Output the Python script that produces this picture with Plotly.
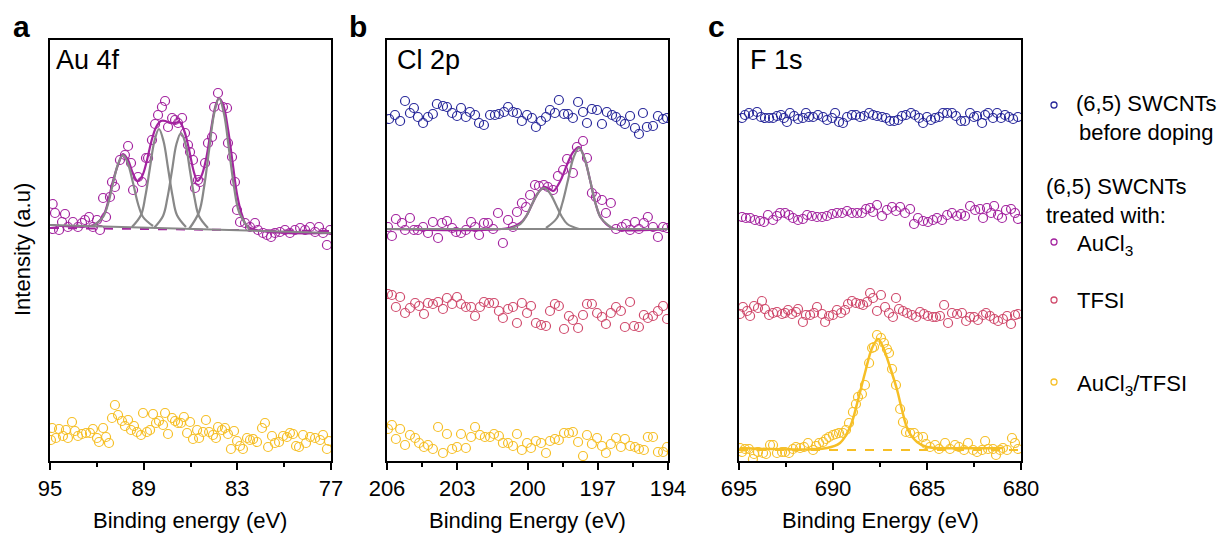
import plotly.graph_objects as go

FONT = "Liberation Sans, Arial, sans-serif"
C_BLUE = "#27279a"
C_PURPLE = "#a3239f"
C_PINK = "#d04a6c"
C_YELLOW = "#f6bf26"
C_GRAY = "#888888"

# ---------------- Panel a: Au 4f ----------------
a_purple_E = [94.83, 94.68, 94.81, 94.42, 94.23, 94.04, 93.85, 93.53, 93.21, 92.95, 92.76, 92.50, 92.25, 91.99,
              91.80, 91.60, 91.41, 91.16, 91.03, 90.84, 90.52, 90.20, 90.00, 89.81, 89.68, 89.36, 89.11, 88.85,
              88.72, 88.47, 88.27, 88.08, 87.83, 87.63, 87.44, 87.18, 86.99, 86.80, 86.54, 86.35, 86.16, 86.03,
              85.84, 85.71, 85.52, 85.39, 85.07, 84.88, 84.62, 84.49, 84.24, 83.92, 83.66, 83.60, 83.34, 83.15,
              83.02, 82.83, 82.51, 82.19, 81.87, 81.68, 81.36, 81.10, 80.84, 80.59, 80.27, 79.95, 79.63, 79.31,
              78.98, 78.66, 78.34, 78.02, 77.77, 77.51, 77.26, 77.06]
a_purple_I = [257, 248, 232, 231, 239, 247, 234, 239, 234, 238, 241, 244, 234, 241,
              231, 263, 244, 264, 279, 274, 301, 306, 315, 298, 271, 284, 279, 303,
              303, 321, 337, 346, 354, 360, 334, 343, 341, 338, 343, 328, 316, 309,
              301, 273, 281, 279, 298, 318, 324, 354, 368, 354, 353, 318, 304, 279,
              251, 239, 238, 234, 238, 231, 228, 226, 224, 228, 229, 231, 228, 231,
              233, 231, 234, 229, 234, 228, 216, 231]

a_yellow_E = [94.87, 94.94, 94.62, 94.42, 94.17, 93.98, 93.85, 93.59, 93.40, 93.21, 92.95, 92.69, 92.44, 92.25,
              91.99, 91.86, 91.60, 91.41, 91.22, 91.03, 90.84, 90.64, 90.39, 90.20, 90.00, 89.81, 89.62, 89.43,
              89.17, 89.04, 88.79, 88.59, 88.40, 88.21, 88.02, 87.76, 87.63, 87.44, 87.18, 86.99, 86.80, 86.61,
              86.42, 86.22, 86.03, 85.84, 85.58, 85.45, 85.20, 85.01, 84.81, 84.56, 84.37, 84.24, 83.98, 83.79,
              83.60, 83.41, 83.21, 83.02, 82.83, 82.64, 82.38, 82.19, 81.99, 81.74, 81.42, 81.23, 81.03, 80.78,
              80.59, 80.33, 80.07, 79.82, 79.63, 79.43, 79.24, 79.05, 78.79, 78.60, 78.34, 78.02, 77.70, 77.51,
              77.26, 77.13]
a_yellow_I = [33, 21, 23, 32, 25, 31, 23, 39, 30, 25, 27, 28, 28, 32,
              23, 19, 33, 24, 18, 43, 56, 46, 40, 35, 41, 31, 35, 29,
              26, 48, 29, 31, 47, 38, 40, 36, 48, 27, 43, 40, 38, 38,
              44, 28, 39, 22, 31, 23, 29, 41, 29, 26, 23, 34, 31, 33,
              27, 12, 30, 20, 15, 12, 23, 21, 22, 19, 33, 38, 14, 25,
              18, 19, 25, 24, 28, 27, 15, 14, 26, 18, 24, 23, 21, 26,
              12, 20]

a_base_E = [95, 77]
a_base_I = [236, 228]
a_dash_I = [233, 230]

a_env_E = [95.0, 92.2, 91.6, 91.3, 91.0, 90.6, 90.32, 90.0, 89.7, 89.4, 89.1, 88.8, 88.5, 88.2, 87.9, 87.6,
           87.3, 87.0, 86.7, 86.4, 86.1, 85.8, 85.55, 85.3, 85.0, 84.7, 84.4, 84.17, 83.9, 83.6, 83.3, 83.0,
           82.7, 82.3, 77.0]
a_env_I = [236, 236, 245, 258, 278, 298, 307, 301, 288, 280, 285, 300, 320, 334, 340, 340,
           338, 338, 339, 330, 312, 290, 280, 285, 302, 330, 355, 363, 356, 332, 298, 265,
           246, 234, 228]

a_pk1_E = [92.24, 91.60, 91.28, 90.96, 90.64, 90.32, 90.00, 89.68, 89.36, 89.04, 88.40]
a_pk1_I = [235, 244, 257, 278, 297, 306, 297, 278, 257, 244, 235]
a_pk2_E = [89.75, 89.17, 88.89, 88.60, 88.31, 88.02, 87.73, 87.44, 87.15, 86.87, 86.29]
a_pk2_I = [234, 246, 265, 293, 320, 332, 320, 293, 265, 246, 234]
a_pk3_E = [88.34, 87.76, 87.48, 87.19, 86.90, 86.61, 86.32, 86.03, 85.74, 85.46, 84.88]
a_pk3_I = [233, 245, 263, 290, 317, 328, 317, 290, 263, 245, 233]
a_pk4_E = [86.09, 85.45, 85.13, 84.81, 84.49, 84.17, 83.85, 83.53, 83.21, 82.89, 82.25]
a_pk4_I = [232, 249, 274, 311, 347, 363, 347, 311, 274, 249, 232]

# ---------------- Panel b: Cl 2p ----------------
b_blue_E = [205.91, 205.66, 205.44, 205.23, 205.02, 204.85, 204.68, 204.46, 204.25, 204.04, 203.87, 203.61,
            203.44, 203.22, 203.01, 202.84, 202.63, 202.46, 202.24, 202.07, 201.86, 201.60, 201.39, 201.22,
            201.00, 200.83, 200.62, 200.45, 200.24, 200.02, 199.81, 199.64, 199.42, 199.21, 199.04, 198.83,
            198.66, 198.44, 198.27, 198.06, 197.84, 197.63, 197.46, 197.25, 197.03, 196.82, 196.61, 196.39,
            196.22, 196.01, 195.84, 195.62, 195.41, 195.24, 195.07, 194.90, 194.64, 194.43, 194.21, 194.04]
b_blue_I = [342, 346, 340, 360, 348, 353, 344, 338, 344, 347, 357, 355,
            354, 348, 345, 353, 344, 349, 346, 338, 336, 346, 346, 347,
            349, 354, 349, 348, 340, 346, 343, 334, 340, 344, 351, 348,
            361, 347, 347, 343, 359, 349, 338, 352, 351, 337, 349, 346,
            344, 340, 337, 345, 333, 327, 348, 334, 335, 345, 342, 343]

b_purple_E = [205.96, 205.79, 205.62, 205.36, 205.23, 205.02, 204.85, 204.68, 204.46, 204.25, 204.04, 203.82,
              203.65, 203.44, 203.22, 203.05, 202.84, 202.63, 202.41, 202.24, 202.07, 201.86, 201.69, 201.47,
              201.26, 201.05, 200.83, 200.62, 200.45, 200.24, 200.06, 199.89, 199.68, 199.51, 199.30, 199.13,
              198.91, 198.70, 198.48, 198.31, 198.06, 197.89, 197.63, 197.46, 197.25, 197.08, 196.82, 196.65,
              196.44, 196.22, 195.97, 195.79, 195.62, 195.41, 195.24, 195.03, 194.86, 194.64, 194.43, 194.21,
              194.04]
b_purple_I = [234, 225, 242, 238, 231, 243, 231, 231, 234, 228, 239, 223,
              238, 240, 233, 229, 228, 231, 239, 234, 226, 238, 238, 232,
              248, 218, 241, 234, 249, 258, 254, 266, 276, 275, 276, 274,
              271, 285, 291, 302, 288, 314, 320, 303, 268, 264, 261, 248,
              258, 232, 234, 237, 231, 239, 232, 238, 244, 234, 224, 234,
              233]

b_pink_E = [205.96, 205.79, 205.62, 205.44, 205.23, 205.02, 204.80, 204.63, 204.42, 204.25, 204.04, 203.82,
            203.61, 203.44, 203.22, 203.01, 202.84, 202.63, 202.41, 202.24, 202.03, 201.86, 201.64, 201.43,
            201.22, 201.05, 200.83, 200.62, 200.45, 200.24, 200.02, 199.85, 199.64, 199.42, 199.21, 199.04,
            198.83, 198.66, 198.44, 198.23, 198.06, 197.84, 197.63, 197.46, 197.25, 197.03, 196.82, 196.65,
            196.44, 196.22, 196.01, 195.84, 195.62, 195.45, 195.24, 195.03, 194.86, 194.64, 194.43, 194.21,
            194.04]
b_pink_I = [167, 166, 154, 164, 148, 153, 158, 155, 147, 158, 157, 159,
            152, 163, 157, 164, 157, 154, 154, 145, 154, 159, 158, 158,
            150, 143, 152, 154, 138, 158, 148, 155, 138, 136, 135, 150,
            157, 155, 132, 145, 141, 133, 146, 157, 157, 148, 144, 137,
            148, 154, 150, 134, 159, 135, 134, 146, 143, 145, 150, 155,
            142]

b_yellow_E = [205.96, 205.79, 205.62, 205.44, 205.23, 205.02, 204.80, 204.63, 204.42, 204.25, 204.04, 203.82,
              203.61, 203.44, 203.22, 203.01, 202.84, 202.63, 202.41, 202.24, 202.03, 201.82, 201.60, 201.43,
              201.22, 201.05, 200.83, 200.62, 200.45, 200.24, 200.02, 199.85, 199.64, 199.42, 199.21, 199.04,
              198.83, 198.66, 198.44, 198.23, 198.06, 197.84, 197.63, 197.46, 197.25, 197.03, 196.82, 196.65,
              196.44, 196.22, 196.01, 195.84, 195.62, 195.41, 195.24, 195.03, 194.86, 194.64, 194.43, 194.21,
              194.04]
b_yellow_I = [32, 36, 22, 32, 16, 26, 23, 18, 14, 16, 12, 34,
              8, 27, 12, 14, 27, 13, 24, 34, 26, 24, 24, 27,
              25, 18, 18, 15, 27, 11, 18, 13, 20, 18, 8, 20,
              22, 21, 28, 28, 29, 19, 5, 26, 17, 23, 15, 8,
              17, 23, 14, 22, 15, 14, 12, 11, 24, 24, 9, 9,
              14]

b_base_E = [206, 194]
b_base_I = [232, 232]

b_env_E = [206.0, 200.8, 200.3, 200.05, 199.8, 199.55, 199.3, 199.05, 198.9, 198.6, 198.3, 198.05, 197.8,
           197.57, 197.33, 197.1, 196.86, 196.39, 194.0]
b_env_I = [232, 233, 238, 245, 257, 268, 274, 272, 270, 280, 297, 309, 314,
           303, 281, 258, 243, 233, 232]

b_pk1_E = [200.80, 200.30, 200.05, 199.80, 199.55, 199.30, 199.05, 198.80, 198.55, 198.30, 197.80]
b_pk1_I = [232, 237, 245, 257, 268, 273, 268, 257, 245, 237, 232]
b_pk2_E = [199.21, 198.74, 198.51, 198.27, 198.04, 197.80, 197.57, 197.33, 197.10, 196.86, 196.39]
b_pk2_I = [233, 243, 258, 281, 303, 313, 303, 281, 258, 243, 233]

# ---------------- Panel c: F 1s ----------------
c_blue_E = [694.84, 694.68, 694.47, 694.26, 694.04, 693.83, 693.62, 693.40, 693.19, 692.98, 692.77, 692.61,
            692.45, 692.29, 692.07, 691.86, 691.60, 691.44, 691.28, 691.06, 690.80, 690.53, 690.32, 690.05,
            689.89, 689.68, 689.47, 689.25, 688.99, 688.78, 688.56, 688.35, 688.08, 687.87, 687.66, 687.39,
            687.18, 686.97, 686.75, 686.54, 686.33, 686.12, 685.85, 685.64, 685.42, 685.21, 685.00, 684.79,
            684.57, 684.36, 684.15, 683.93, 683.67, 683.46, 683.19, 682.98, 682.71, 682.50, 682.34, 682.07,
            681.91, 681.75, 681.49, 681.27, 681.06, 680.85, 680.64, 680.42, 680.16]
c_blue_I = [343, 346, 348, 346, 349, 344, 343, 343, 343, 345, 346, 343,
            339, 348, 345, 342, 343, 348, 344, 344, 346, 344, 341, 343,
            348, 339, 338, 344, 346, 346, 344, 345, 348, 346, 345, 344,
            343, 340, 340, 341, 345, 346, 348, 346, 343, 338, 344, 341,
            343, 344, 348, 348, 348, 345, 340, 340, 348, 344, 345, 338,
            346, 348, 343, 348, 343, 346, 344, 342, 344]

c_purple_E = [694.84, 694.63, 694.41, 694.15, 693.88, 693.67, 693.46, 693.19, 692.98, 692.82, 692.55, 692.34,
              692.13, 691.86, 691.60, 691.38, 691.12, 690.85, 690.58, 690.32, 690.05, 689.79, 689.52, 689.25,
              688.99, 688.72, 688.46, 688.24, 688.03, 687.87, 687.66, 687.39, 687.13, 686.86, 686.65, 686.43,
              686.17, 685.90, 685.69, 685.48, 685.21, 684.95, 684.68, 684.47, 684.20, 683.93, 683.67, 683.40,
              683.19, 682.98, 682.71, 682.44, 682.18, 682.02, 681.81, 681.59, 681.43, 681.22, 681.01, 680.80,
              680.53, 680.32, 680.16]
c_purple_I = [244, 243, 243, 241, 240, 239, 246, 241, 245, 248, 248, 246,
              243, 241, 242, 246, 245, 244, 244, 245, 247, 248, 248, 250,
              248, 248, 248, 252, 253, 249, 256, 245, 251, 254, 250, 254,
              248, 252, 237, 243, 240, 239, 241, 243, 241, 246, 248, 245,
              247, 245, 255, 251, 252, 243, 253, 248, 255, 246, 243, 251,
              252, 248, 242]

c_pink_E = [694.95, 694.79, 694.57, 694.41, 694.20, 693.99, 693.78, 693.62, 693.40, 693.19, 692.98, 692.71,
            692.55, 692.39, 692.18, 691.97, 691.86, 691.60, 691.44, 691.22, 691.01, 690.85, 690.58, 690.42,
            690.21, 690.00, 689.79, 689.57, 689.36, 689.20, 688.99, 688.78, 688.56, 688.40, 688.19, 688.03,
            687.87, 687.66, 687.45, 687.23, 687.02, 686.81, 686.65, 686.49, 686.28, 686.06, 685.80, 685.58,
            685.37, 685.16, 684.95, 684.68, 684.52, 684.31, 684.09, 683.88, 683.67, 683.40, 683.14, 682.92,
            682.71, 682.50, 682.29, 682.02, 681.86, 681.65, 681.43, 681.22, 680.96, 680.74, 680.53, 680.32,
            680.16]
c_pink_I = [147, 154, 150, 145, 155, 153, 160, 152, 146, 148, 149, 147,
            148, 151, 147, 149, 152, 139, 146, 146, 148, 154, 147, 139,
            145, 146, 151, 148, 151, 157, 160, 158, 157, 156, 159, 168,
            163, 150, 166, 154, 148, 144, 163, 152, 150, 148, 146, 144,
            149, 147, 145, 144, 144, 145, 156, 138, 148, 147, 148, 140,
            144, 144, 141, 146, 148, 145, 142, 140, 142, 145, 137, 146,
            147]

c_yellow_E = [694.95, 694.84, 694.68, 694.47, 694.26, 694.20, 693.99, 693.72, 693.56, 693.35, 693.19, 692.98,
              692.71, 692.55, 692.34, 692.13, 691.97, 691.75, 691.54, 691.33, 691.06, 690.90, 690.74, 690.53,
              690.37, 690.21, 690.00, 689.84, 689.68, 689.47, 689.31, 689.15, 688.94, 688.78, 688.67, 688.46,
              688.30, 688.08, 687.92, 687.82, 687.66, 687.45, 687.29, 687.13, 687.02, 686.86, 686.65, 686.43,
              686.28, 686.12, 685.90, 685.69, 685.48, 685.21, 685.05, 684.84, 684.57, 684.36, 684.04, 683.78,
              683.51, 683.30, 683.03, 682.82, 682.55, 682.34, 682.07, 681.91, 681.75, 681.49, 681.33, 681.11,
              680.96, 680.74, 680.48, 680.32, 680.16]
c_yellow_I = [13, 9, 12, 12, 2, 7, 9, 8, 7, 16, 16, 8,
              9, 9, 8, 12, 14, 13, 14, 18, 11, 15, 18, 19,
              22, 24, 26, 27, 28, 28, 31, 38, 49, 57, 64, 67,
              76, 98, 113, 114, 126, 123, 118, 112, 108, 92, 76, 52,
              39, 29, 28, 28, 24, 24, 17, 14, 16, 12, 18, 12,
              16, 14, 11, 18, 11, 9, 11, 20, 12, 12, 6, 11,
              13, 11, 23, 18, 12]

c_fit_E = [694.95, 690.32, 689.63, 689.09, 688.67, 688.30, 687.92, 687.60, 687.34, 686.97, 686.59, 686.33,
           686.01, 685.53, 685.00, 684.47, 680.96]
c_fit_I = [13, 13, 18, 34, 61, 88, 113, 122, 114, 94, 71, 51,
           31, 19, 14, 13, 13]
c_dash_E = [695, 680]
c_dash_I = [11, 11]

# ---------------- axes / labels ----------------
a_ticks = [95, 89, 83, 77]
a_minor = [92, 86, 80]
b_ticks = [206, 203, 200, 197, 194]
b_minor = [204.5, 201.5, 198.5, 195.5]
c_ticks = [695, 690, 685, 680]
c_minor = [692.5, 687.5, 682.5]

legend_labels = ["(6,5) SWCNTs<br>before doping", "AuCl<sub>3</sub>", "TFSI", "AuCl<sub>3</sub>/TFSI"]
legend_colors = [C_BLUE, C_PURPLE, C_PINK, C_YELLOW]
legend_y = [105, 242, 300, 382]

W, H = 1223, 533


def fx(x):
    return x / W


def fy(y):
    return 1 - y / H


fig = go.Figure()


def pts(E, I, color, ax):
    fig.add_trace(go.Scatter(x=E, y=I, mode="markers", xaxis="x" + ax, yaxis="y" + ax,
                             marker=dict(symbol="circle-open", size=9, color=color,
                                         line=dict(width=1.2, color=color)),
                             showlegend=False, hoverinfo="skip"))


def line(E, I, color, ax, width=2, dash="solid", spline=True):
    fig.add_trace(go.Scatter(x=E, y=I, mode="lines", xaxis="x" + ax, yaxis="y" + ax,
                             line=dict(color=color, width=width, dash=dash,
                                       shape="spline" if spline else "linear", smoothing=1.0),
                             showlegend=False, hoverinfo="skip"))


# Panel a
pts(a_purple_E, a_purple_I, C_PURPLE, "")
pts(a_yellow_E, a_yellow_I, C_YELLOW, "")
line(a_base_E, a_dash_I, C_PURPLE, "", width=2, dash="dash", spline=False)
line(a_env_E, a_env_I, C_PURPLE, "", width=2.2)
line(a_base_E, a_base_I, C_GRAY, "", width=2, spline=False)
for E, I in [(a_pk1_E, a_pk1_I), (a_pk2_E, a_pk2_I), (a_pk3_E, a_pk3_I), (a_pk4_E, a_pk4_I)]:
    line(E, I, C_GRAY, "", width=2.2)

# Panel b
pts(b_blue_E, b_blue_I, C_BLUE, "2")
pts(b_purple_E, b_purple_I, C_PURPLE, "2")
pts(b_pink_E, b_pink_I, C_PINK, "2")
pts(b_yellow_E, b_yellow_I, C_YELLOW, "2")
line(b_base_E, b_base_I, C_PURPLE, "2", width=2, dash="dash", spline=False)
line(b_env_E, b_env_I, C_PURPLE, "2", width=2.2)
line(b_base_E, b_base_I, C_GRAY, "2", width=2, spline=False)
for E, I in [(b_pk1_E, b_pk1_I), (b_pk2_E, b_pk2_I)]:
    line(E, I, C_GRAY, "2", width=2.2)

# Panel c
pts(c_blue_E, c_blue_I, C_BLUE, "3")
pts(c_purple_E, c_purple_I, C_PURPLE, "3")
pts(c_pink_E, c_pink_I, C_PINK, "3")
pts(c_yellow_E, c_yellow_I, C_YELLOW, "3")
line(c_dash_E, c_dash_I, C_YELLOW, "3", width=2, dash="dash", spline=False)
line(c_fit_E, c_fit_I, C_YELLOW, "3", width=2.5)

# Legend markers (on a hidden page-pixel axis)
fig.add_trace(go.Scatter(x=[1054] * len(legend_y), y=legend_y, mode="markers", xaxis="x4", yaxis="y4",
                         marker=dict(symbol="circle-open", size=6, color=legend_colors,
                                     line=dict(width=1.3, color=legend_colors)),
                         showlegend=False, hoverinfo="skip"))

font = dict(family=FONT, size=22, color="black")
yrange = [0, 421]
ydom = [fy(461), fy(40)]


def xax(x0, x1, rng, ticks, minor):
    return dict(domain=[fx(x0), fx(x1)], range=rng, tickvals=ticks, ticktext=[str(t) for t in ticks],
                ticks="outside", ticklen=7, tickwidth=2, tickcolor="black",
                minor=dict(tickvals=minor, ticks="outside", ticklen=4, tickwidth=1.5, tickcolor="black"),
                showline=True, mirror=True, linewidth=2, linecolor="black",
                showgrid=False, zeroline=False, tickfont=font, automargin=False)


def yax(anchor):
    return dict(domain=ydom, range=yrange, anchor=anchor, showticklabels=False, ticks="",
                showline=True, mirror=True, linewidth=2, linecolor="black",
                showgrid=False, zeroline=False, automargin=False)


fig.update_layout(
    width=W, height=H, margin=dict(l=0, r=0, t=0, b=0),
    paper_bgcolor="white", plot_bgcolor="white", showlegend=False,
    font=dict(family=FONT, color="black"),
    xaxis=dict(**xax(50, 331, [95, 77], a_ticks, a_minor), anchor="y"),
    xaxis2=dict(**xax(387, 668, [206, 194], b_ticks, b_minor), anchor="y2"),
    xaxis3=dict(**xax(739, 1021, [695, 680], c_ticks, c_minor), anchor="y3"),
    yaxis=yax("x"), yaxis2=yax("x2"), yaxis3=yax("x3"),
    xaxis4=dict(domain=[fx(1030), 1], range=[1030, W], visible=False, anchor="y4"),
    yaxis4=dict(domain=[0, 1], range=[H, 0], visible=False, anchor="x4"),
)

ann = []


def txt(x, y, s, size=22, bold=False, xanchor="left", align="left", angle=0):
    ann.append(dict(x=fx(x), y=fy(y), xref="paper", yref="paper", text=("<b>%s</b>" % s) if bold else s,
                    showarrow=False, xanchor=xanchor, yanchor="middle", align=align, textangle=angle,
                    font=dict(family=FONT, size=size, color="black")))


txt(11, 27, "a", size=30, bold=True)
txt(347, 27, "b", size=30, bold=True)
txt(706, 27, "c", size=30, bold=True)
txt(54, 60, "Au 4f", size=27)
txt(395, 60, "Cl 2p", size=27)
txt(748, 60, "F 1s", size=27)
txt(190, 520, "Binding energy (eV)", xanchor="center", align="center")
txt(527, 520, "Binding Energy (eV)", xanchor="center", align="center")
txt(880, 520, "Binding Energy (eV)", xanchor="center", align="center")
txt(22, 250, "Intensity (a.u)", xanchor="center", align="center", angle=-90)
txt(1074, 118, legend_labels[0], xanchor="left", align="center")
txt(1044, 201, "(6,5) SWCNTs<br>treated with:")
txt(1075, legend_y[1] + 3, legend_labels[1])
txt(1075, legend_y[2], legend_labels[2])
txt(1075, legend_y[3] + 3, legend_labels[3])
fig.update_layout(annotations=ann)

# remove the browser's default 8px body margin so the figure fills the page exactly
fig.write_html("out.html", config={"displayModeBar": False},
               post_script="document.body.style.margin='0';")
